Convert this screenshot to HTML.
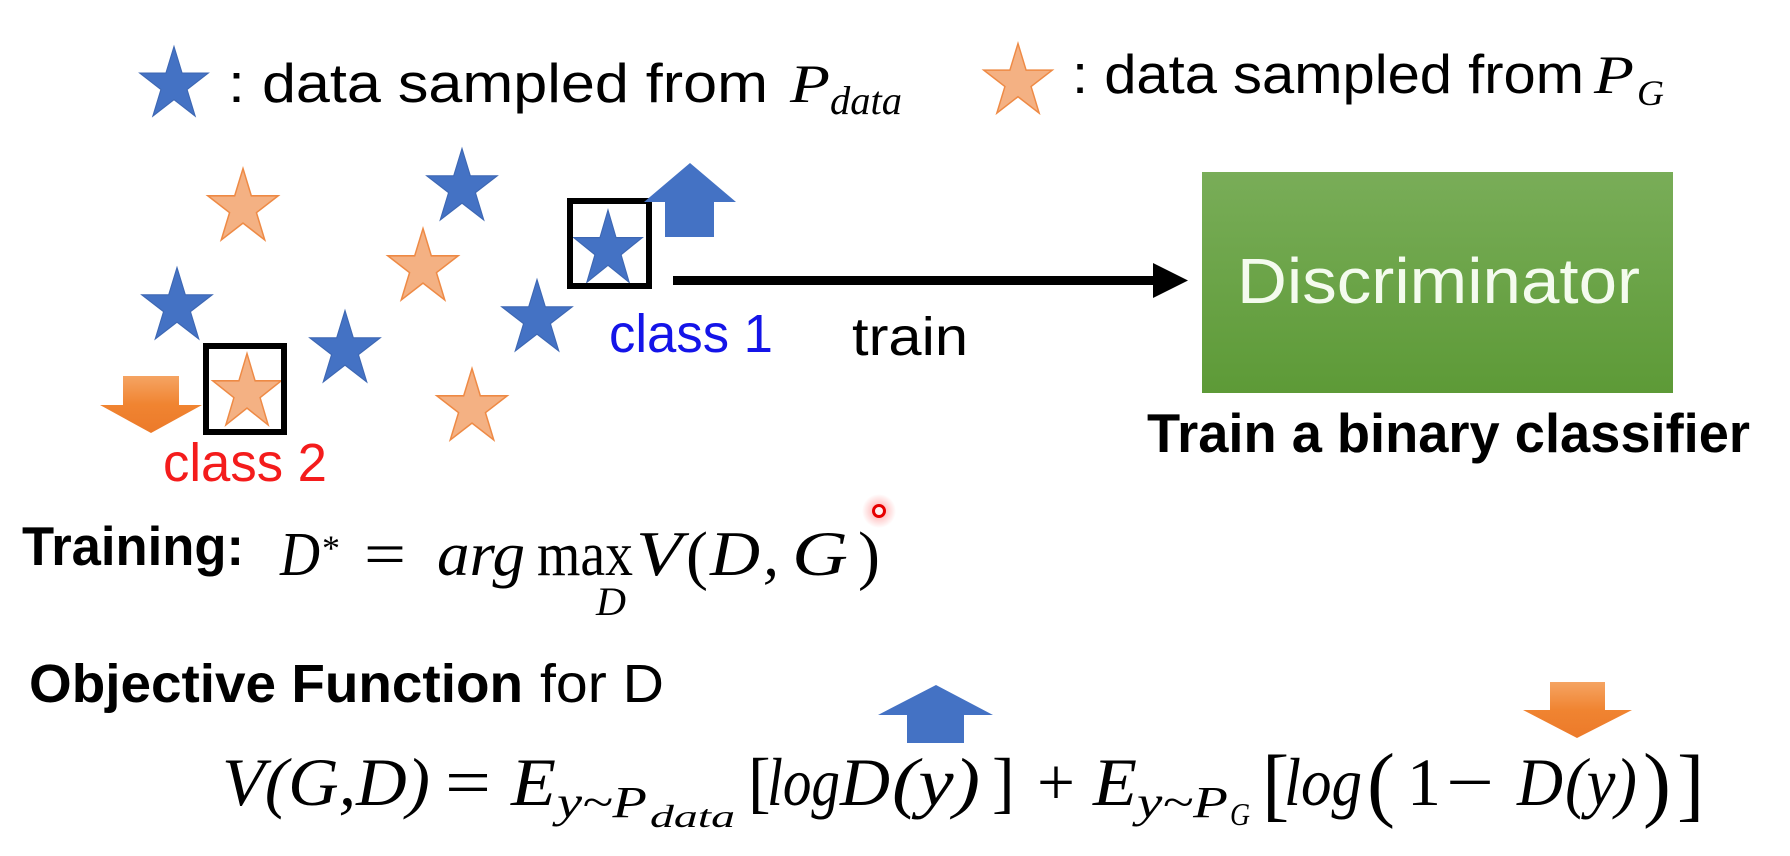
<!DOCTYPE html>
<html><head><meta charset="utf-8"><style>
html,body{margin:0;padding:0;background:#fff;}
svg{display:block;}
</style></head><body>
<svg width="1790" height="856" viewBox="0 0 1790 856" xmlns="http://www.w3.org/2000/svg">
<defs>
<polygon id="st" points="0,-1 0.2245,-0.309 0.9511,-0.309 0.3633,0.118 0.5878,0.809 0,0.382 -0.5878,0.809 -0.3633,0.118 -0.9511,-0.309 -0.2245,-0.309"/>
<linearGradient id="gr" x1="0" y1="0" x2="0" y2="1">
<stop offset="0" stop-color="#79ad58"/><stop offset="1" stop-color="#5d9a37"/>
</linearGradient>
<linearGradient id="og" x1="0" y1="0" x2="0" y2="1">
<stop offset="0" stop-color="#f5a463"/><stop offset="0.5" stop-color="#f08431"/><stop offset="1" stop-color="#ec7a2a"/>
</linearGradient>
<radialGradient id="glow"><stop offset="0" stop-color="#ff3030" stop-opacity="0.45"/><stop offset="1" stop-color="#ff3030" stop-opacity="0"/></radialGradient>
</defs>
<rect width="1790" height="856" fill="#fff"/>

<!-- legend -->
<g fill="#4472C4" stroke="#3d67b3" stroke-width="0.03">
<use href="#st" transform="translate(174,85) scale(36,38.5)"/>
</g>
<g fill="#F4B183" stroke="#ee8a45" stroke-width="0.04">
<use href="#st" transform="translate(1018,82) scale(36,38.5)"/>
</g>
<g font-family="Liberation Sans, sans-serif" fill="#000">
<text x="228" y="102" font-size="55" textLength="540" lengthAdjust="spacingAndGlyphs">: data sampled from</text>
<text x="1072" y="93" font-size="55" textLength="512" lengthAdjust="spacingAndGlyphs">: data sampled from</text>
</g>
<g font-family="Liberation Serif, serif" font-style="italic" fill="#000">
<text x="790" y="102" font-size="54" textLength="40" lengthAdjust="spacingAndGlyphs">P</text>
<text x="830" y="114" font-size="40" textLength="72" lengthAdjust="spacingAndGlyphs">data</text>
<text x="1594" y="93" font-size="54" textLength="40" lengthAdjust="spacingAndGlyphs">P</text>
<text x="1637" y="105" font-size="36" textLength="27" lengthAdjust="spacingAndGlyphs">G</text>
</g>

<!-- stars field -->
<g fill="#F4B183" stroke="#ee8a45" stroke-width="0.04">
<use href="#st" transform="translate(243,208) scale(37,39.5)"/>
<use href="#st" transform="translate(423,268) scale(37,39.5)"/>
<use href="#st" transform="translate(472,408) scale(37,39.5)"/>
<use href="#st" transform="translate(247,393) scale(36,39.5)"/>
</g>
<g fill="#4472C4" stroke="#3d67b3" stroke-width="0.03">
<use href="#st" transform="translate(462,188) scale(37,39.5)"/>
<use href="#st" transform="translate(177,307) scale(37,39.5)"/>
<use href="#st" transform="translate(345,350) scale(37,39.5)"/>
<use href="#st" transform="translate(537,319) scale(37,39.5)"/>
<use href="#st" transform="translate(608,250) scale(36,40)"/>
</g>

<!-- boxes -->
<rect x="570" y="201" width="79" height="85" fill="none" stroke="#000" stroke-width="6"/>
<rect x="206" y="346" width="78" height="86" fill="none" stroke="#000" stroke-width="6"/>

<!-- blue up arrow top -->
<polygon points="690,163 736,202 714,202 714,237 665,237 665,202 644,202" fill="#4472C4"/>
<!-- orange down arrow left -->
<polygon points="123,376 179,376 179,405 202,405 151,433 100,405 123,405" fill="url(#og)"/>

<!-- train arrow -->
<rect x="673" y="276" width="484" height="9" fill="#000"/>
<polygon points="1153,263 1188,280.5 1153,298" fill="#000"/>

<!-- labels -->
<g font-family="Liberation Sans, sans-serif">
<text x="609" y="352" font-size="54" fill="#1414e8" textLength="164" lengthAdjust="spacingAndGlyphs">class 1</text>
<text x="852" y="355" font-size="54" fill="#000" textLength="116" lengthAdjust="spacingAndGlyphs">train</text>
<text x="163" y="481" font-size="54" fill="#f41c1c" textLength="164" lengthAdjust="spacingAndGlyphs">class 2</text>
</g>

<!-- discriminator -->
<rect x="1202" y="172" width="471" height="221" fill="url(#gr)"/>
<text x="1237" y="303" font-family="Liberation Sans, sans-serif" font-size="64" fill="#f4fbee" textLength="403" lengthAdjust="spacingAndGlyphs">Discriminator</text>
<text x="1147" y="452" font-family="Liberation Sans, sans-serif" font-weight="bold" font-size="55" fill="#000" textLength="603" lengthAdjust="spacingAndGlyphs">Train a binary classifier</text>

<!-- red pointer -->
<circle cx="879" cy="511" r="17" fill="url(#glow)"/>
<circle cx="879" cy="511" r="5.5" fill="#fff0f0" stroke="#e60000" stroke-width="3"/>

<!-- Training line -->
<text x="22" y="565" font-family="Liberation Sans, sans-serif" font-weight="bold" font-size="55" fill="#000" textLength="222" lengthAdjust="spacingAndGlyphs">Training:</text>
<g font-family="Liberation Serif, serif" fill="#000">
<text x="280" y="575" font-size="62" font-style="italic" textLength="40" lengthAdjust="spacingAndGlyphs">D</text>
<text x="322" y="560" font-size="36" textLength="18" lengthAdjust="spacingAndGlyphs">*</text>
<text x="364" y="575" font-size="62" textLength="42" lengthAdjust="spacingAndGlyphs">=</text>
<text x="437" y="575" font-size="62" font-style="italic" textLength="88" lengthAdjust="spacingAndGlyphs">arg</text>
<text x="537" y="575" font-size="62" textLength="96" lengthAdjust="spacingAndGlyphs">max</text>
<text x="596" y="615" font-size="40" font-style="italic" textLength="30" lengthAdjust="spacingAndGlyphs">D</text>
<text x="636" y="575" font-size="64" font-style="italic" textLength="46" lengthAdjust="spacingAndGlyphs">V</text>
<text x="686" y="577" font-size="66">(</text>
<text x="710" y="575" font-size="64" font-style="italic" textLength="50" lengthAdjust="spacingAndGlyphs">D</text>
<text x="763" y="575" font-size="64" font-style="italic">,</text>
<text x="792" y="575" font-size="64" font-style="italic" textLength="56" lengthAdjust="spacingAndGlyphs">G</text>
<text x="858" y="577" font-size="66">)</text>
</g>

<!-- Objective line -->
<g font-family="Liberation Sans, sans-serif" fill="#000" font-size="54">
<text x="29" y="702" font-weight="bold" textLength="494" lengthAdjust="spacingAndGlyphs">Objective Function</text>
<text x="540" y="702" textLength="124" lengthAdjust="spacingAndGlyphs">for D</text>
</g>

<!-- bottom arrows -->
<polygon points="936,685 993,715 964,715 964,743 907,743 907,715 878,715" fill="#4472C4"/>
<polygon points="1550,682 1605,682 1605,710 1632,710 1577,738 1523,710 1550,710" fill="url(#og)"/>

<!-- main formula -->
<g font-family="Liberation Serif, serif" fill="#000">
<text x="222" y="805" font-size="68" font-style="italic" textLength="208" lengthAdjust="spacingAndGlyphs">V(G,D)</text>
<text x="445" y="805" font-size="68" textLength="46" lengthAdjust="spacingAndGlyphs">=</text>
<text x="511" y="805" font-size="68" font-style="italic" textLength="45" lengthAdjust="spacingAndGlyphs">E</text>
<text x="557" y="817" font-size="44" font-style="italic" textLength="90" lengthAdjust="spacingAndGlyphs">y~P</text>
<text x="650" y="827" font-size="32" font-style="italic" textLength="85" lengthAdjust="spacingAndGlyphs">data</text>
<text x="748" y="805" font-size="68">[</text>
<text x="767" y="805" font-size="68" font-style="italic" textLength="73" lengthAdjust="spacingAndGlyphs">log</text>
<text x="840" y="805" font-size="68" font-style="italic" textLength="50" lengthAdjust="spacingAndGlyphs">D</text>
<text x="892" y="805" font-size="68" font-style="italic" textLength="88" lengthAdjust="spacingAndGlyphs">(y)</text>
<text x="992" y="805" font-size="68">]</text>
<text x="1037" y="805" font-size="68" textLength="38" lengthAdjust="spacingAndGlyphs">+</text>
<text x="1093" y="805" font-size="68" font-style="italic" textLength="44" lengthAdjust="spacingAndGlyphs">E</text>
<text x="1137" y="817" font-size="44" font-style="italic" textLength="91" lengthAdjust="spacingAndGlyphs">y~P</text>
<text x="1230" y="825" font-size="32" font-style="italic" textLength="20" lengthAdjust="spacingAndGlyphs">G</text>
<text x="1262" y="811" font-size="82">[</text>
<text x="1284" y="805" font-size="68" font-style="italic" textLength="78" lengthAdjust="spacingAndGlyphs">log</text>
<text x="1367" y="811" font-size="84">(</text>
<text x="1407" y="805" font-size="68">1</text>
<text x="1446" y="805" font-size="68" textLength="48" lengthAdjust="spacingAndGlyphs">−</text>
<text x="1517" y="805" font-size="68" font-style="italic" textLength="46" lengthAdjust="spacingAndGlyphs">D</text>
<text x="1565" y="805" font-size="68" font-style="italic" textLength="72" lengthAdjust="spacingAndGlyphs">(y)</text>
<text x="1643" y="811" font-size="84">)</text>
<text x="1677" y="811" font-size="82">]</text>
</g>
</svg>
</body></html>
